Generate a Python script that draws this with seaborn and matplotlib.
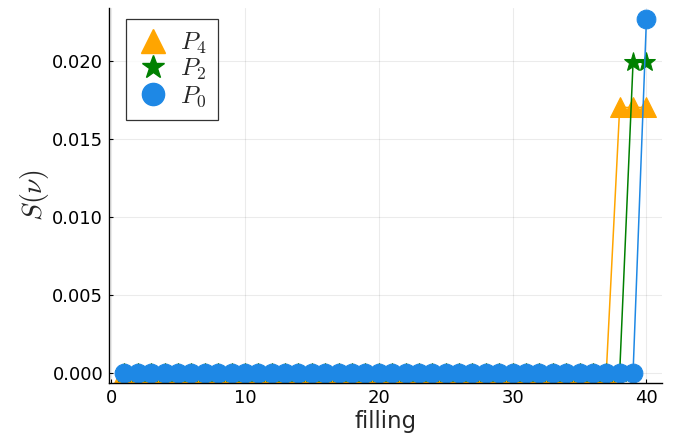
import numpy as np
import pandas as pd
import matplotlib
matplotlib.use("Agg")
import matplotlib.pyplot as plt
import seaborn as sns
from matplotlib.lines import Line2D

filling = list(range(1, 41))
p4 = [0.0] * 37 + [0.0170, 0.0170, 0.0170]
p2 = [0.0] * 38 + [0.0199, 0.0199]
p0 = [0.0] * 39 + [0.0227]
labels = ["$P_4$", "$P_2$", "$P_0$"]
colors = ["#FFA500", "#008000", "#1E88E5"]
markers = ["^", "*", "o"]
msizes = [14, 14, 13.5]
leg_sizes = [17, 17, 16]

sns.set_theme(style="white")
plt.rcParams["font.family"] = ["DejaVu Sans"]
plt.rcParams["mathtext.fontset"] = "cm"

fig = plt.figure(figsize=(6.84, 4.43), dpi=100)
ax = fig.add_axes([0.159, 0.135, 0.809, 0.847])

df = pd.DataFrame({"filling": filling, "P4": p4, "P2": p2, "P0": p0})
handles = []
for col, lab, c, m, ms, ls in zip(["P4", "P2", "P0"], labels, colors, markers, msizes, leg_sizes):
    sns.lineplot(data=df, x="filling", y=col, ax=ax, color=c, marker=m,
                 markersize=ms, markeredgecolor=c, linewidth=1.1, legend=False)
    handles.append(Line2D([], [], color=c, marker=m, markersize=ls,
                          markeredgecolor=c, linestyle="none", label=lab))

ax.set_xlim(-0.17, 41.17)
ax.set_ylim(-0.00068, 0.02338)
ax.set_xticks([0, 10, 20, 30, 40])
ax.set_yticks([0.0, 0.005, 0.010, 0.015, 0.020])
ax.set_yticklabels(["0.000", "0.005", "0.010", "0.015", "0.020"])
ax.grid(True, color="#000000", alpha=0.08, linewidth=0.8)
for s in ["top", "right"]:
    ax.spines[s].set_visible(False)
for s in ["left", "bottom"]:
    ax.spines[s].set_color("black")
    ax.spines[s].set_linewidth(1.0)
ax.tick_params(axis="both", direction="in", length=3, width=0.8,
               labelsize=13, colors="black", left=True, bottom=True, pad=4)
ax.set_xlabel("filling", fontsize=16.5, labelpad=2)
ax.set_ylabel(r"$S(\nu)$", fontsize=20, labelpad=1)

leg = ax.legend(handles=handles, loc="upper left", bbox_to_anchor=(0.032, 0.97),
                borderaxespad=0.0,
                fontsize=18, frameon=True, fancybox=False, handlelength=1.2,
                handletextpad=0.5, labelspacing=0.05, borderpad=0.45)
leg.get_frame().set_edgecolor("black")
leg.get_frame().set_linewidth(0.9)

fig.savefig("out.png", dpi=100)
